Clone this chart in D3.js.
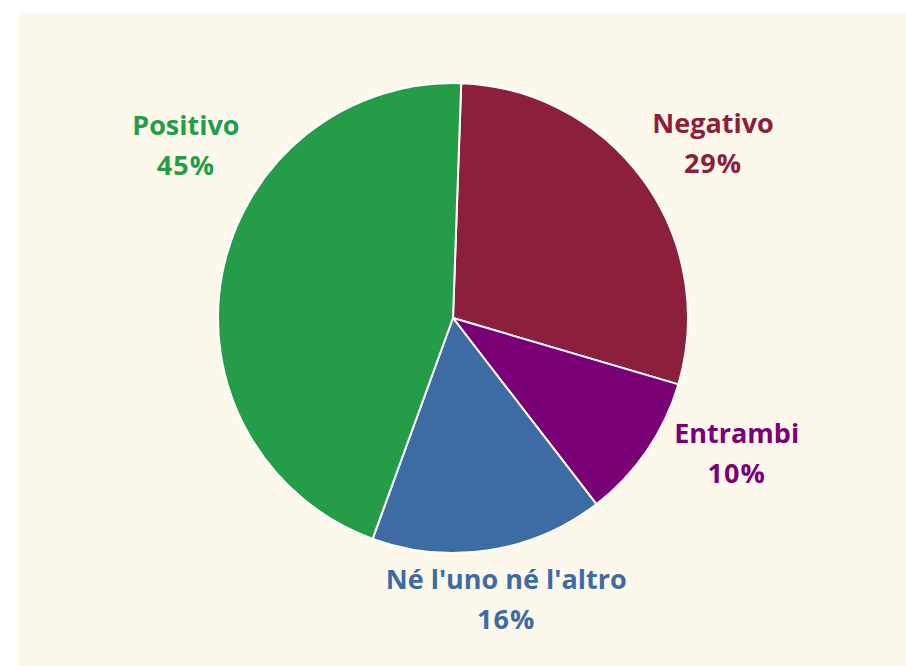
<!DOCTYPE html>
<html>
<head>
<meta charset="utf-8">
<script src="https://cdn.jsdelivr.net/npm/d3@7"></script>
<style>
  html, body { margin: 0; padding: 0; background: #ffffff; }
  svg { display: block; }
  .lbl { font-family: "Open Sans", "Noto Sans", sans-serif; font-weight: 700; }
</style>
</head>
<body>
<svg id="chart" width="906" height="666"></svg>
<script>
// data
var categories = ["Negativo", "Entrambi", "Né l'uno né l'altro", "Positivo"];
var values = [29, 10, 16, 45];
var colors = ["#8c1f3c", "#7a0077", "#3d6ba4", "#259c48"];

// label placement (angle in degrees from 12 o'clock, distance from centre)
var labelAngle = [57, 116.5, 169.5, 302];
var labelDist = [310, 317, 292, 315];

var svg = d3.select("#chart"),
    width = +svg.attr("width"),
    height = +svg.attr("height");

svg.append("rect")
    .attr("x", 18).attr("y", 13)
    .attr("width", width - 18).attr("height", height - 13)
    .attr("fill", "#fdf8ec");

var cx = 453, cy = 318, radius = 235;
var startA = 2 * Math.PI / 180;

var pie = d3.pie()
    .sort(null)
    .startAngle(startA)
    .endAngle(startA + 2 * Math.PI);

var arc = d3.arc().innerRadius(0).outerRadius(radius);

var g = svg.append("g").attr("transform", "translate(" + cx + "," + cy + ")");

var arcs = pie(values);

g.selectAll("path")
    .data(arcs)
    .enter().append("path")
    .attr("d", arc)
    .attr("fill", function(d, i) { return colors[i]; })
    .attr("stroke", "#ffffff")
    .attr("stroke-width", 2)
    .attr("stroke-linejoin", "round");

var total = d3.sum(values);

var labels = g.selectAll("g.lbl")
    .data(arcs)
    .enter().append("g")
    .attr("class", "lbl")
    .attr("transform", function(d, i) {
        var a = labelAngle[i] * Math.PI / 180;
        return "translate(" + (Math.sin(a) * labelDist[i]) + "," + (-Math.cos(a) * labelDist[i]) + ")";
    })
    .attr("fill", function(d, i) { return colors[i]; })
    .attr("text-anchor", "middle")
    .style("font-size", "27px");

labels.append("text")
    .attr("y", -16)
    .text(function(d, i) { return categories[i]; });

labels.append("text")
    .attr("y", 24)
    .attr("letter-spacing", "1px")
    .text(function(d) { return Math.round(d.value / total * 100) + "%"; });
</script>
</body>
</html>
